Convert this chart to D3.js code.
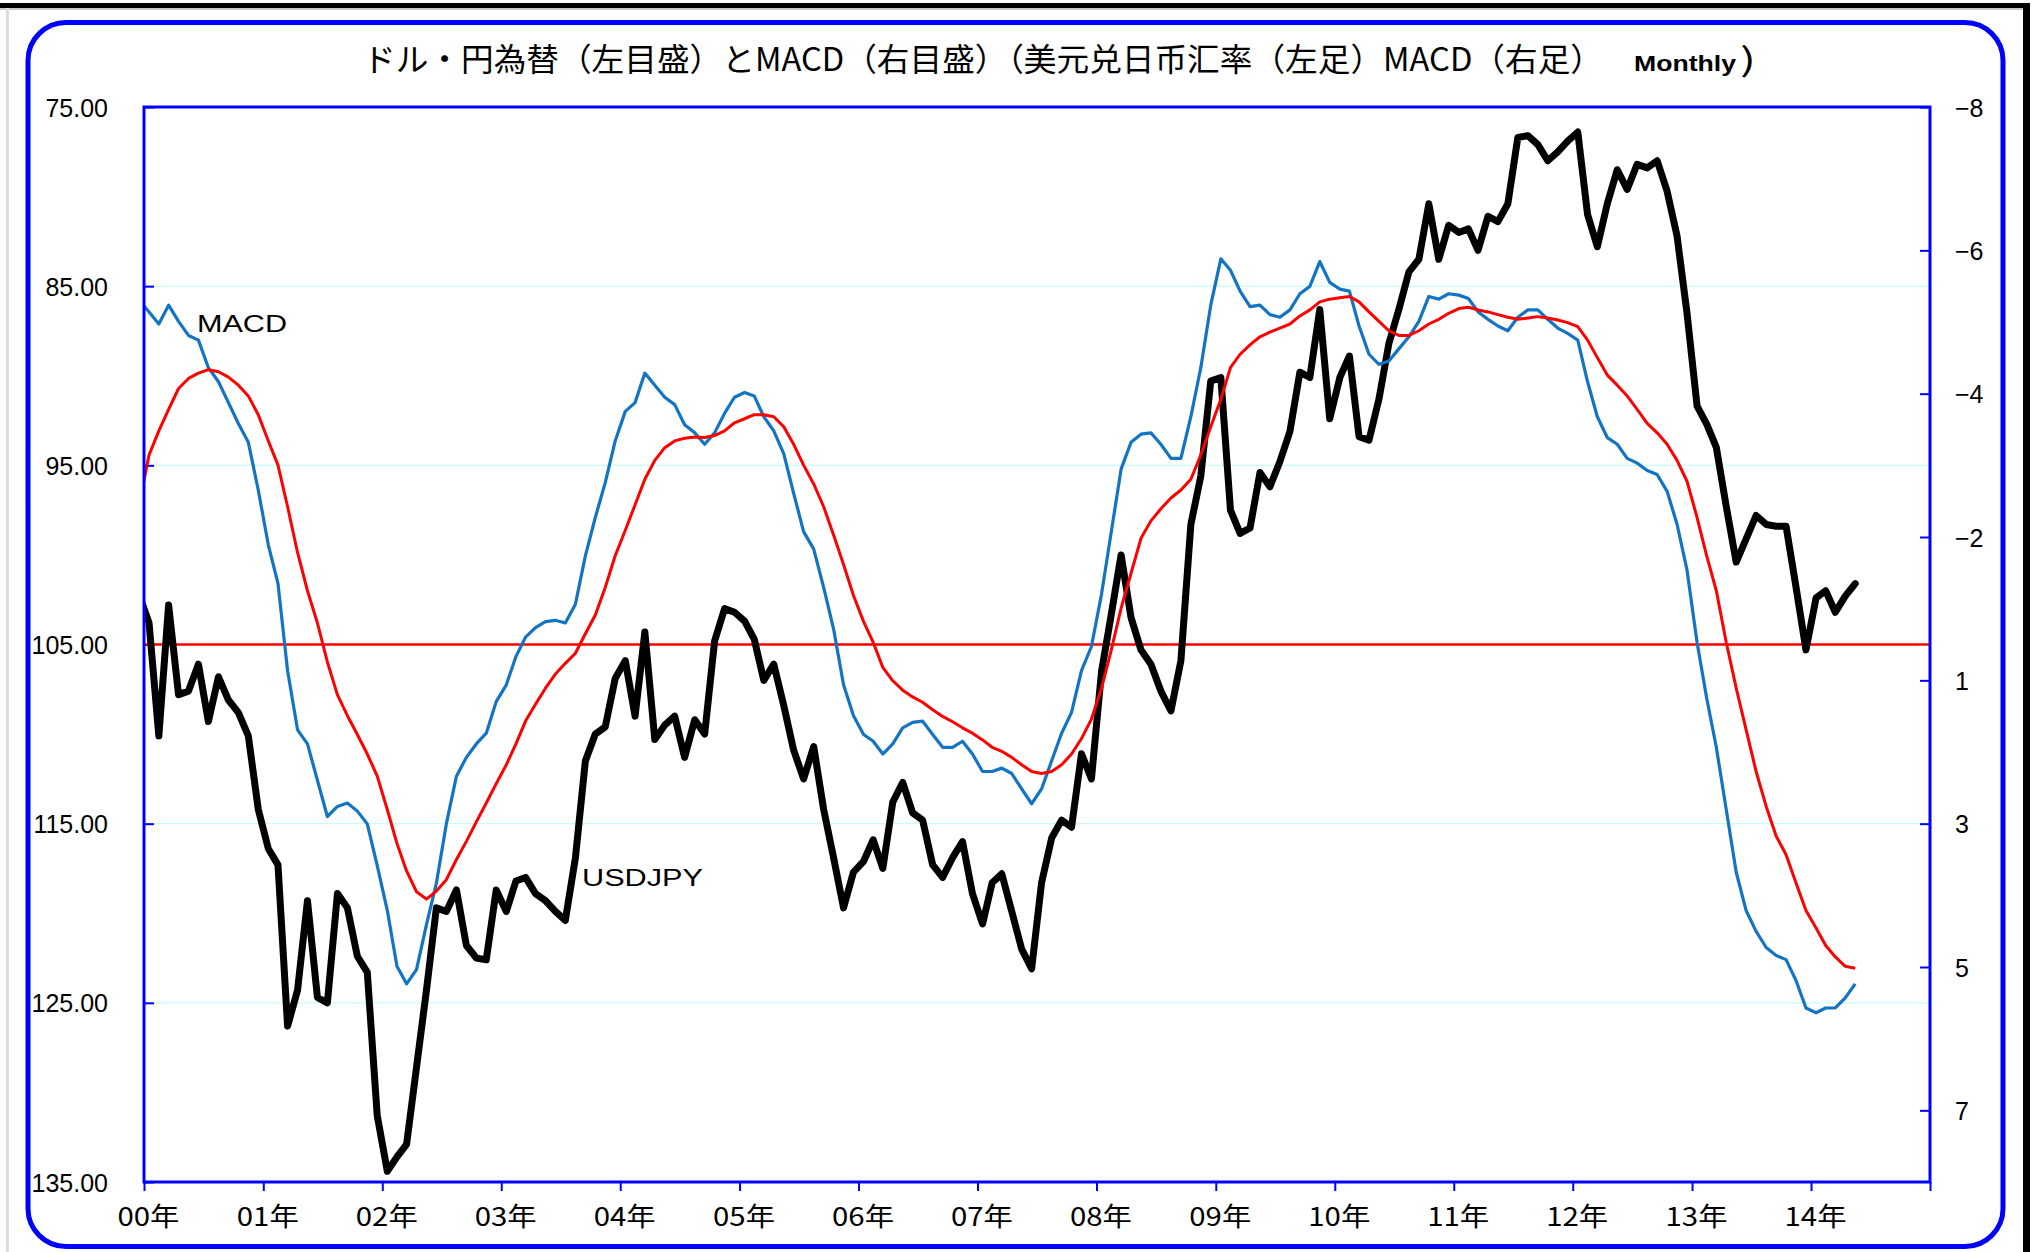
<!DOCTYPE html>
<html>
<head>
<meta charset="utf-8">
<script src="https://cdn.jsdelivr.net/npm/d3@7"></script>
<style>
  html, body { margin: 0; padding: 0; background: #ffffff; }
  svg { display: block; }
</style>
</head>
<body>
<svg id="chart" width="2033" height="1252"></svg>
<script>
// ---------------- DATA ----------------
const firstMonth = "1999-12";   // first data month (clipped at plot's left edge)
const lastMonth  = "2014-05";

const usdjpy = [
  102.2,
  103.8,110.1,102.8,107.8,107.6,106.1,109.3,106.8,108.1,108.8,110.1,114.2,
  116.4,117.3,126.3,124.3,119.3,124.7,125.0,118.9,119.7,122.4,123.3,131.3,
  134.4,133.6,132.9,128.6,124.3,119.7,119.9,118.7,121.8,122.5,122.6,118.7,
  119.9,118.2,118.0,118.9,119.3,119.9,120.4,116.9,111.5,110.0,109.6,106.9,
  105.9,109.0,104.3,110.3,109.5,109.0,111.3,109.2,110.0,104.8,103.0,103.2,
  103.7,104.7,107.0,106.1,108.4,110.9,112.5,110.7,114.2,116.9,119.7,117.7,
  117.1,115.9,117.5,113.8,112.7,114.4,114.8,117.3,118.0,116.9,116.0,118.9,
  120.6,118.3,117.8,119.9,122.0,123.1,118.3,115.8,114.8,115.2,111.1,112.5,
  106.5,103.3,100.0,103.5,105.3,106.1,107.6,108.7,105.9,98.3,95.6,90.3,
  90.1,97.5,98.8,98.5,95.4,96.2,94.8,93.1,89.8,90.1,86.3,92.4,
  90.1,88.9,93.4,93.6,91.3,88.2,86.3,84.2,83.5,80.4,83.5,81.6,
  82.0,81.8,83.0,81.1,81.4,80.4,76.7,76.6,77.1,78.0,77.5,76.9,
  76.4,81.0,82.8,80.4,78.5,79.6,78.2,78.4,78.0,79.7,82.2,86.5,
  91.7,92.7,94.0,97.3,100.4,99.1,97.8,98.3,98.4,98.4,101.8,105.3,
  102.4,102.0,103.2,102.3,101.6
];

const macd = [
  -5.13,
  -4.95,-4.77,-5.05,-4.81,-4.60,-4.53,-4.12,-3.91,-3.60,-3.29,-3.01,-2.30,
  -1.48,-0.91,0.39,1.27,1.48,2.02,2.56,2.41,2.36,2.48,2.67,3.29,
  3.96,4.79,5.05,4.84,4.17,3.55,2.67,1.96,1.68,1.48,1.32,0.85,
  0.60,0.18,-0.11,-0.25,-0.34,-0.36,-0.32,-0.60,-1.32,-1.89,-2.41,-3.03,
  -3.47,-3.60,-4.04,-3.86,-3.68,-3.57,-3.27,-3.15,-2.98,-3.15,-3.44,-3.68,
  -3.75,-3.70,-3.39,-3.18,-2.84,-2.25,-1.68,-1.42,-0.85,-0.23,0.60,1.06,
  1.34,1.44,1.63,1.48,1.24,1.16,1.14,1.34,1.53,1.53,1.44,1.63,
  1.89,1.89,1.84,1.92,2.15,2.37,2.15,1.73,1.32,1.01,0.39,0.03,
  -0.75,-1.68,-2.61,-3.01,-3.13,-3.15,-2.98,-2.77,-2.77,-3.39,-4.12,-5.05,
  -5.74,-5.57,-5.26,-5.03,-5.05,-4.91,-4.87,-4.98,-5.22,-5.33,-5.70,-5.39,
  -5.29,-5.26,-4.74,-4.32,-4.17,-4.22,-4.40,-4.58,-4.81,-5.18,-5.14,-5.22,
  -5.20,-5.15,-4.95,-4.84,-4.74,-4.67,-4.87,-4.98,-4.98,-4.84,-4.71,-4.63,
  -4.53,-3.91,-3.39,-3.08,-2.98,-2.77,-2.70,-2.59,-2.53,-2.28,-1.79,-1.11,
  -0.03,0.80,1.53,2.46,3.39,3.96,4.27,4.51,4.63,4.69,5.00,5.41,
  5.48,5.41,5.41,5.26,5.05
];

const signal = [
  -2.06,
  -2.82,-3.18,-3.50,-3.81,-3.96,-4.04,-4.09,-4.06,-3.98,-3.86,-3.70,-3.42,
  -3.03,-2.67,-2.05,-1.37,-0.80,-0.32,0.26,0.75,1.06,1.34,1.63,1.96,
  2.46,2.96,3.37,3.68,3.79,3.67,3.50,3.20,2.93,2.64,2.36,2.07,
  1.79,1.48,1.14,0.89,0.65,0.44,0.28,0.13,-0.16,-0.44,-0.85,-1.32,
  -1.70,-2.08,-2.46,-2.74,-2.93,-3.03,-3.07,-3.09,-3.08,-3.11,-3.18,-3.30,
  -3.36,-3.42,-3.42,-3.39,-3.24,-2.98,-2.67,-2.39,-2.05,-1.63,-1.19,-0.73,
  -0.34,-0.03,0.34,0.54,0.68,0.78,0.86,0.97,1.07,1.15,1.24,1.32,
  1.42,1.53,1.59,1.68,1.79,1.89,1.92,1.89,1.79,1.63,1.40,1.11,
  0.65,0.08,-0.54,-1.06,-1.58,-1.84,-2.02,-2.18,-2.30,-2.46,-2.82,-3.24,
  -3.65,-4.12,-4.32,-4.46,-4.58,-4.65,-4.71,-4.77,-4.89,-4.98,-5.10,-5.14,
  -5.16,-5.18,-5.10,-4.95,-4.81,-4.67,-4.60,-4.60,-4.67,-4.77,-4.84,-4.93,
  -5.00,-5.02,-4.98,-4.95,-4.91,-4.87,-4.84,-4.86,-4.88,-4.86,-4.83,-4.79,
  -4.73,-4.53,-4.27,-4.01,-3.86,-3.70,-3.50,-3.29,-3.15,-2.98,-2.74,-2.43,
  -1.89,-1.32,-0.80,-0.03,0.65,1.27,1.89,2.41,2.85,3.13,3.55,3.96,
  4.22,4.48,4.65,4.79,4.82
];

const yearLabels = ["00年","01年","02年","03年","04年","05年","06年","07年",
                    "08年","09年","10年","11年","12年","13年","14年"];
const leftTicks = [75, 85, 95, 105, 115, 125, 135];
const leftTickLabels = ["75.00","85.00","95.00","105.00","115.00","125.00","135.00"];
const rightTickLabels = ["\u22128","\u22126","\u22124","\u22122","1","3","5","7"];
const rightDomain = [-8, 8];
const rightTickStep = 16 / 7.5;
const titleMain = "ドル・円為替（左目盛）とMACD（右目盛）（美元兑日币汇率（左足）MACD（右足）";
const titleSub = "Monthly";

// ---------------- LAYOUT ----------------
const svg = d3.select("#chart");
const P = { left: 144, right: 1930, top: 107, bottom: 1182 };
const BLUE = "#0000ff";

const parseM = d3.timeParse("%Y-%m");
const months = d3.timeMonth.range(parseM(firstMonth), d3.timeMonth.offset(parseM(lastMonth), 1));

const x = d3.scaleTime()
  .domain([new Date(2000, 0, 1), new Date(2015, 0, 1)])
  .range([P.left, P.right]);
const xMid = d => (x(d) + x(d3.timeMonth.offset(d, 1))) / 2;

const yL = d3.scaleLinear().domain([75, 135]).range([P.top, P.bottom]);
const yR = d3.scaleLinear().domain(rightDomain).range([P.top, P.bottom]);

// screenshot edge artifacts
svg.append("rect").attr("x", 0).attr("y", 3).attr("width", 2030).attr("height", 5).attr("fill", "#000");
svg.append("rect").attr("x", 0).attr("y", 8).attr("width", 2024).attr("height", 2).attr("fill", "#c8c8c8");
svg.append("rect").attr("x", 2023).attr("y", 3).attr("width", 7).attr("height", 1249).attr("fill", "#000");
svg.append("rect").attr("x", 6).attr("y", 8).attr("width", 3).attr("height", 1244).attr("fill", "#dcdcdc");

// outer rounded frame
svg.append("rect")
  .attr("x", 28).attr("y", 22.5).attr("width", 1975).attr("height", 1224)
  .attr("rx", 38).attr("ry", 38)
  .attr("fill", "#fff").attr("stroke", BLUE).attr("stroke-width", 5);

// title
svg.append("text")
  .attr("x", 363).attr("y", 71)
  .attr("textLength", 1240).attr("lengthAdjust", "spacingAndGlyphs")
  .style("font-family", "'Noto Sans CJK JP'").style("font-size", "32px")
  .attr("fill", "#000").text(titleMain);
svg.append("text")
  .attr("x", 1634).attr("y", 71)
  .attr("textLength", 102).attr("lengthAdjust", "spacingAndGlyphs")
  .style("font-family", "'Liberation Sans'").style("font-size", "22px").style("font-weight", "bold")
  .attr("fill", "#000").text(titleSub);
svg.append("text")
  .attr("x", 1740).attr("y", 71)
  .attr("textLength", 16).attr("lengthAdjust", "spacingAndGlyphs")
  .style("font-family", "'Noto Sans CJK JP'").style("font-size", "32px")
  .attr("fill", "#000").text(")");

// gridlines (left-axis ticks)
svg.append("g").selectAll("line")
  .data(leftTicks.filter(v => v !== 75 && v !== 135))
  .join("line")
  .attr("x1", P.left).attr("x2", P.right)
  .attr("y1", d => yL(d)).attr("y2", d => yL(d))
  .attr("stroke", "#c8fcfc").attr("stroke-width", 1.2);

// left axis
const gL = svg.append("g").attr("transform", `translate(${P.left},0)`)
  .call(d3.axisRight(yL).tickValues(leftTicks).tickSize(10).tickPadding(0)
        .tickFormat((d, i) => leftTickLabels[i]));
gL.select(".domain").remove();
gL.selectAll(".tick line").attr("stroke", BLUE).attr("stroke-width", 2);
gL.selectAll(".tick text")
  .attr("x", 108 - P.left).attr("text-anchor", "end").attr("dy", "0.36em")
  .style("font-family", "'Liberation Sans'").style("font-size", "25px").attr("fill", "#000");

// right axis
const rightTickVals = rightTickLabels.map((_, i) => rightDomain[0] + i * rightTickStep);
const gR = svg.append("g").attr("transform", `translate(${P.right},0)`)
  .call(d3.axisLeft(yR).tickValues(rightTickVals).tickSize(10).tickPadding(0)
        .tickFormat((d, i) => rightTickLabels[i]));
gR.select(".domain").remove();
gR.selectAll(".tick line").attr("stroke", BLUE).attr("stroke-width", 2);
gR.selectAll(".tick text")
  .attr("x", 1955 - P.right).attr("text-anchor", "start").attr("dy", "0.36em")
  .style("font-family", "'Liberation Sans'").style("font-size", "25px").attr("fill", "#000");

// bottom axis
const yearTicks = d3.range(2000, 2016).map(y => new Date(y, 0, 1));
const gB = svg.append("g").attr("transform", `translate(0,${P.bottom})`)
  .call(d3.axisBottom(x).tickValues(yearTicks).tickSize(9).tickPadding(0)
        .tickFormat((d, i) => yearLabels[i] || ""));
gB.select(".domain").remove();
gB.selectAll(".tick line").attr("stroke", BLUE).attr("stroke-width", 2);
gB.selectAll(".tick text")
  .attr("x", 4).attr("y", 44).attr("dy", 0)
  .attr("textLength", 62).attr("lengthAdjust", "spacingAndGlyphs")
  .style("font-family", "'Noto Sans CJK JP'").style("font-size", "26px").attr("fill", "#000");

// clip
svg.append("clipPath").attr("id", "plotClip")
  .append("rect").attr("x", P.left).attr("y", P.top)
  .attr("width", P.right - P.left).attr("height", P.bottom - P.top);

const gP = svg.append("g").attr("clip-path", "url(#plotClip)");

// zero line of MACD
gP.append("line")
  .attr("x1", P.left).attr("x2", P.right)
  .attr("y1", yR(0)).attr("y2", yR(0))
  .attr("stroke", "#ff0000").attr("stroke-width", 2.5);

const lineL = d3.line().x((d, i) => xMid(months[i])).y(d => yL(d));
const lineR = d3.line().x((d, i) => xMid(months[i])).y(d => yR(d));

gP.append("path").datum(usdjpy).attr("d", lineL)
  .attr("fill", "none").attr("stroke", "#000").attr("stroke-width", 7)
  .attr("stroke-linejoin", "round").attr("stroke-linecap", "round");
gP.append("path").datum(macd).attr("d", lineR)
  .attr("fill", "none").attr("stroke", "#1474c4").attr("stroke-width", 3.2)
  .attr("stroke-linejoin", "round");
gP.append("path").datum(signal).attr("d", lineR)
  .attr("fill", "none").attr("stroke", "#ff0000").attr("stroke-width", 3)
  .attr("stroke-linejoin", "round");

// plot border
svg.append("rect")
  .attr("x", P.left).attr("y", P.top)
  .attr("width", P.right - P.left).attr("height", P.bottom - P.top)
  .attr("fill", "none").attr("stroke", BLUE).attr("stroke-width", 3);

// series labels
svg.append("text").attr("x", 197).attr("y", 332)
  .attr("textLength", 90).attr("lengthAdjust", "spacingAndGlyphs")
  .style("font-family", "'Liberation Sans'").style("font-size", "24px")
  .attr("fill", "#000").text("MACD");
svg.append("text").attr("x", 582).attr("y", 886)
  .attr("textLength", 121).attr("lengthAdjust", "spacingAndGlyphs")
  .style("font-family", "'Liberation Sans'").style("font-size", "24px")
  .attr("fill", "#000").text("USDJPY");
</script>
</body>
</html>
